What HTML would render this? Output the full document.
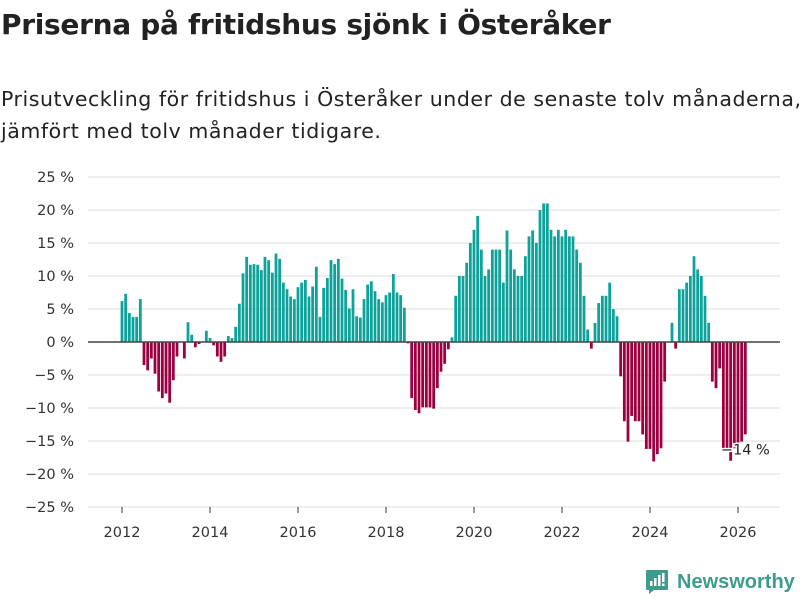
<!DOCTYPE html>
<html><head><meta charset="utf-8"><style>
body{margin:0;background:#fff;width:800px;height:600px;overflow:hidden;font-family:"DejaVu Sans","Liberation Sans",sans-serif;color:#222}
h1{position:absolute;left:1px;top:8px;margin:0;font-size:28px;font-weight:bold;letter-spacing:-0.3px;white-space:nowrap}
.sub{position:absolute;left:1px;top:83px;font-size:20.5px;line-height:32px;margin:0;white-space:nowrap;letter-spacing:0.55px}
svg{position:absolute;left:0;top:0}
</style></head><body>
<h1>Priserna på fritidshus sjönk i Österåker</h1>
<p class="sub">Prisutveckling för fritidshus i Österåker under de senaste tolv månaderna,<br>jämfört med tolv månader tidigare.</p>
<svg id="chart" width="800" height="600"></svg>
<script>
const yTicks=[25,20,15,10,5,0,-5,-10,-15,-20,-25];
const yearTicks=[2012,2014,2016,2018,2020,2022,2024,2026];
const startYear=2012;
const values=[6.2,7.3,4.4,3.8,3.8,6.5,-3.5,-4.3,-2.5,-4.8,-7.5,-8.5,-7.8,-9.2,-5.8,-2.2,0,-2.5,3.0,1.1,-0.8,-0.3,0,1.7,0.6,-0.5,-2.2,-3,-2.2,0.9,
0.6,2.3,5.8,10.4,12.9,11.7,11.8,11.7,10.9,12.9,12.4,10.5,13.4,12.6,9.0,8.0,6.9,6.5,8.3,9.0,9.4,6.9,8.4,11.4,3.8,8.2,9.7,12.4,11.8,12.6,9.6,7.9,5.1,8.0,3.9,3.7,6.5,8.7,9.2,7.7,6.5,6.0,7.1,7.5,10.3,7.5,7.1,5.2,-0.2,
-8.5,-10.3,-10.8,-9.9,-9.9,-9.9,-10.1,-7.0,-4.5,-3.3,-1.1,0.7,7.0,10,10,12,15,17,19.1,14,10,11,14,14,14,9,16.9,14,11,10,10,13,16,16.9,15,20,21,21,17,16,17,16,17,16,16,14,12,7,1.9,-1,2.9,5.9,
7,7,9,5,3.9,-5.2,-12,-15.1,-11.2,-12,-12,-14,-16.2,-16.2,-18.1,-17,-16.1,-6,0,2.9,-1,8,8,9,10,13,11,10,7,2.9,-6,-7,-4,-16.1,-16.1,-18,-16.1,-15.8,-15.1,-14];
const lastLabel="−14 %";
const NS="http://www.w3.org/2000/svg";
const svg=document.getElementById('chart');
function x(t){return 122+(t-2012)*44;}
function y(v){return 342-v*6.6;}
function fmt(v){return (v<0?'−'+Math.abs(v):v)+' %';}
function mk(tag,attrs,parent){const e=document.createElementNS(NS,tag);for(const k in attrs)e.setAttribute(k,attrs[k]);(parent||svg).appendChild(e);return e;}
yTicks.forEach(v=>{
  const g=mk('line',{x1:88,x2:780,y1:y(v),y2:y(v),stroke:'#dcdcdc','stroke-width':1});
  
  
  const t=mk('text',{x:74,y:y(v)+5,'text-anchor':'end','font-size':14.5,fill:'#333'});
  t.textContent=fmt(v);
  
  
});
yearTicks.forEach(yr=>{
  const l=mk('line',{x1:x(yr),x2:x(yr),y1:507,y2:513,stroke:'#333'});
  
  
  const t=mk('text',{x:x(yr),y:537,'text-anchor':'middle','font-size':14.5,fill:'#333'});
  t.textContent=yr;
  
  
});
values.forEach((v,i)=>{
  const cx=x(startYear+i/12);
  const r=mk('rect',{x:cx-1.4,width:2.8,y:Math.min(y(v),y(0)),height:Math.abs(y(v)-y(0)),fill:v>=0?'#0fa29a':'#9b0040'});
  
  
});
const z=mk('line',{x1:88,x2:780,y1:y(0),y2:y(0),stroke:'#444','stroke-width':1.5});


const li=values.length-1;
const lb=mk('text',{x:x(startYear+li/12),y:y(values[li])+20,'text-anchor':'middle','font-size':14.5,fill:'#222',stroke:'#fff','stroke-width':3,'paint-order':'stroke'});
lb.textContent=lastLabel;


</script>
<div style="position:absolute;left:645px;top:569px;display:flex;align-items:center;color:#3c9c8e;font-size:20px;font-weight:bold;font-family:'Liberation Sans',sans-serif">
<svg width="24" height="26" viewBox="0 0 24 26" style="position:static;margin-right:8px"><path d="M2 1h20a1 1 0 0 1 1 1v18a1 1 0 0 1-1 1H9l-5 4v-4H2a1 1 0 0 1-1-1V2a1 1 0 0 1 1-1z" fill="#3c9c8e"/><rect x="5" y="12" width="2.5" height="5" fill="#fff"/><rect x="9" y="9" width="2.5" height="8" fill="#fff"/><rect x="13" y="6" width="2.5" height="11" fill="#fff"/><rect x="17" y="4" width="2.5" height="9" fill="#fff"/><rect x="17" y="14.5" width="2.5" height="2.5" fill="#fff"/></svg>Newsworthy</div>
</body></html>
